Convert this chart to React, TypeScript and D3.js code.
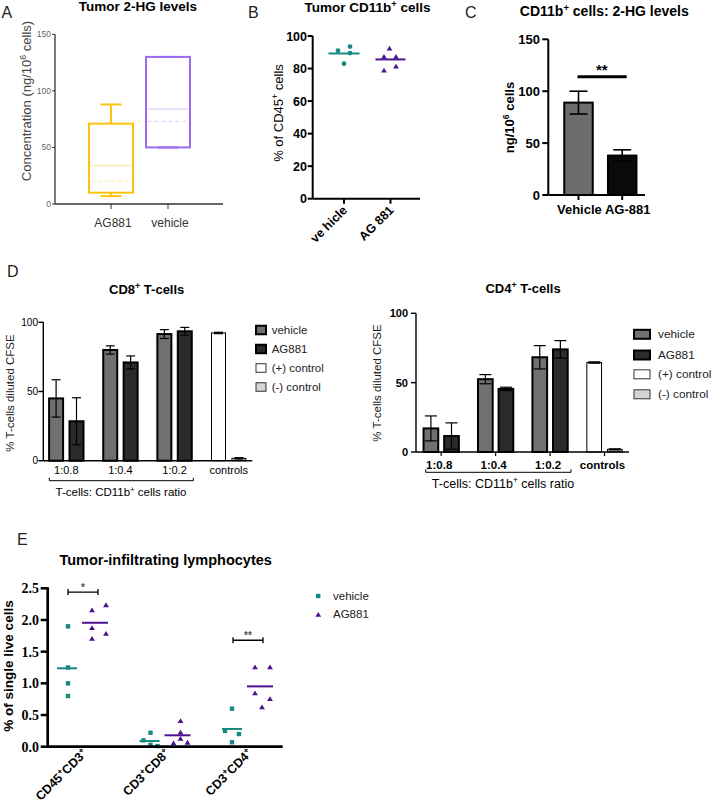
import React from "react";
import * as d3 from "d3";

// ---------- Panel A: Tumor 2-HG levels (box plots) ----------
const aCategories = ["AG881", "vehicle"];
const aMin = [7, 50];
const aQ1 = [10, 50];
const aMedian = [34, 84];
const aMean = [20, 73];
const aQ3 = [71, 130];
const aMax = [88, 130];
const aTicks = [0, 50, 100, 150];

// ---------- Panel B: Tumor CD11b+ cells ----------
const bCategories = ["ve hicle", "AG 881"];
const bVehicle = [91, 93.5, 83, 89.5];
const bAG881 = [92.5, 87.5, 87.5, 79, 81.5];
const bTicks = [0, 20, 40, 60, 80, 100];

// ---------- Panel C: CD11b+ cells 2-HG levels ----------
const cCategories = ["Vehicle", "AG-881"];
const cMeans = [89, 38];
const cErrors = [11, 5.5];
const cTicks = [0, 50, 100, 150];
const cSigLabel = "**";

// ---------- Panel D: T-cell suppression ----------
const dGroups = ["1:0.8", "1:0.4", "1:0.2"];
const dControlsLabel = "controls";
const dLegend = ["vehicle", "AG881", "(+) control", "(-) control"];
const dTicks = [0, 50, 100];
const cd8Vehicle = [45, 80, 91.5];
const cd8VehicleErr = [13.5, 3, 3.2];
const cd8AG881 = [28.5, 71, 93.5];
const cd8AG881Err = [17, 4.7, 2.8];
const cd8Controls = [92.3, 1.7];
const cd8ControlsErr = [0.5, 0.5];
const cd4Vehicle = [17, 52.5, 68.3];
const cd4VehicleErr = [9, 3.3, 8.4];
const cd4AG881 = [11.5, 45.5, 74];
const cd4AG881Err = [9.5, 1.2, 6.3];
const cd4Controls = [64.5, 1.9];
const cd4ControlsErr = [0.5, 0.4];

// ---------- Panel E: Tumor-infiltrating lymphocytes ----------
const eCategories = ["CD45^+CD3^+", "CD3^+CD8^+", "CD3^+CD4^+"];
const eVehicle = [
  [1.9, 1.25, 1.0, 0.8],
  [0.22, 0.1, 0.01, 0.03],
  [0.6, 0.25, 0.2, 0.07],
];
const eAG881 = [
  [2.16, 2.24, 1.88, 1.79, 1.71],
  [0.41, 0.23, 0.13, 0.06, 0.07],
  [1.26, 1.26, 0.85, 0.76, 0.63],
];
const eTicks = [0, 0.5, 1.0, 1.5, 2.0, 2.5];
const eSigCategories = ["CD45^+CD3^+", "CD3^+CD4^+"];
const eSigLabels = ["*", "**"];
const eSigLevels = [2.44, 1.68];

// ---------- layout-only jitter (px) ----------
const bVehicleJitter = [-6, 6, 0, 6];
const bAGJitter = [-1, -6.5, 5.5, -6.5, 5.5];
const eVehicleJitter = [
  [1, 1, 1, 1],
  [1, -6, 8, 1],
  [0, -7, 7, 0],
];
const eAGJitter = [
  [-3, 11, -3, 11, -3],
  [3, 3, 3, -4, 10],
  [-5, 10, -5, 10, 2],
];

const FONT = "'Liberation Sans', Arial, Helvetica, sans-serif";
const SERIF = "'Liberation Serif', 'Times New Roman', serif";
const TEAL = "#168A80";
const PURPLE = "#4A128C";

function Rich({ text, fs, ...rest }: any) {
  const parts = text.split(/(\^.)/).filter((p: string) => p.length > 0);
  let raised = false;
  const kids = parts.map((p: string, i: number) => {
    if (p[0] === "^" && p.length === 2) {
      raised = true;
      return (
        <tspan key={i} dy={-fs * 0.38} fontSize={fs * 0.68}>
          {p[1]}
        </tspan>
      );
    }
    const dy = raised ? fs * 0.38 : 0;
    raised = false;
    return (
      <tspan key={i} dy={dy}>
        {p}
      </tspan>
    );
  });
  return (
    <text fontSize={fs} {...rest}>
      {kids}
    </text>
  );
}

function tri(cx: number, cy: number, w: number, h: number) {
  return `M${cx},${cy - h / 2}L${cx + w / 2},${cy + h / 2}L${cx - w / 2},${cy + h / 2}Z`;
}

function PanelA() {
  const y = d3.scaleLinear().domain([0, 150]).range([204, 34.3]);
  const x = d3.scalePoint<string>().domain(aCategories).range([111, 168]);
  const stroke = ["#FFC20E", "#9B6BF3"];
  const light = ["#FFEDB0", "#E2D8FC"];
  const bw = 44;
  const cap = 21;
  const ax = 55;
  return (
    <g fontFamily={FONT}>
      <text x={1.5} y={18.3} fontSize={16} fill="#222">A</text>
      <text x={138} y={11} textAnchor="middle" fontSize={13.5} fontWeight="bold">
        Tumor 2-HG levels
      </text>
      <Rich
        text="Concentration (ng/10^6 cells)"
        fs={13}
        fill="#444"
        textAnchor="middle"
        transform={`translate(31,101) rotate(-90)`}
      />
      {aCategories.map((c, i) => {
        const cx = x(c)!;
        return (
          <g key={c}>
            <line x1={cx} x2={cx} y1={y(aMax[i])} y2={y(aQ3[i])} stroke={stroke[i]} strokeWidth={2} />
            <line x1={cx} x2={cx} y1={y(aQ1[i])} y2={y(aMin[i])} stroke={stroke[i]} strokeWidth={2} />
            <line x1={cx - cap / 2} x2={cx + cap / 2} y1={y(aMax[i])} y2={y(aMax[i])} stroke={stroke[i]} strokeWidth={2} />
            <line x1={cx - cap / 2} x2={cx + cap / 2} y1={y(aMin[i])} y2={y(aMin[i])} stroke={stroke[i]} strokeWidth={2} />
            <rect
              x={cx - bw / 2}
              y={y(aQ3[i])}
              width={bw}
              height={y(aQ1[i]) - y(aQ3[i])}
              fill="none"
              stroke={stroke[i]}
              strokeWidth={2}
            />
            <line x1={cx - bw / 2 + 1.5} x2={cx + bw / 2 - 1.5} y1={y(aMedian[i])} y2={y(aMedian[i])} stroke={light[i]} strokeWidth={1.6} />
            <line
              x1={cx - bw / 2 + 1.5}
              x2={cx + bw / 2 - 1.5}
              y1={y(aMean[i])}
              y2={y(aMean[i])}
              stroke={light[i]}
              strokeWidth={1.3}
              strokeDasharray="4,3"
            />
          </g>
        );
      })}
      <line x1={ax} x2={ax} y1={y(150)} y2={y(0)} stroke="#333" strokeWidth={1.3} />
      <line x1={ax} x2={223} y1={y(0)} y2={y(0)} stroke="#333" strokeWidth={1.3} />
      {aTicks.map((t) => (
        <g key={t}>
          <line x1={ax - 3} x2={ax} y1={y(t)} y2={y(t)} stroke="#333" strokeWidth={1} />
          <text x={ax - 4} y={y(t) + 3} fontSize={8.5} fill="#666" textAnchor="end">
            {t}
          </text>
        </g>
      ))}
      {aCategories.map((c) => (
        <g key={c}>
          <line x1={x(c)!} x2={x(c)!} y1={y(0)} y2={y(0) + 5} stroke="#333" strokeWidth={1} />
          <text x={x(c)! + 2} y={226.5} fontSize={12} fill="#333" textAnchor="middle">
            {c}
          </text>
        </g>
      ))}
    </g>
  );
}

function PanelB() {
  const y = d3.scaleLinear().domain([0, 100]).range([198.7, 36]);
  const x = d3.scalePoint<string>().domain(bCategories).range([344, 390.5]);
  const ax = 312.7;
  const vm = d3.mean(bVehicle)!;
  const am = d3.mean(bAG881)!;
  return (
    <g fontFamily={FONT}>
      <text x={248} y={18.3} fontSize={16} fill="#222">B</text>
      <Rich text="Tumor CD11b^+ cells" fs={13.5} fontWeight="bold" x={367.5} y={12} textAnchor="middle" />
      <Rich text="% of CD45^+ cells" fs={13} textAnchor="middle" transform="translate(282.5,113) rotate(-90)" />
      <line x1={ax} x2={ax} y1={y(100)} y2={y(0)} stroke="#000" strokeWidth={2} />
      <line x1={ax} x2={420} y1={y(0)} y2={y(0)} stroke="#000" strokeWidth={2} />
      {bTicks.map((t) => (
        <g key={t}>
          <line x1={ax - 5} x2={ax} y1={y(t)} y2={y(t)} stroke="#000" strokeWidth={2} />
          <text x={307} y={y(t) + 4.5} fontSize={12.5} fontWeight="bold" textAnchor="end">
            {t}
          </text>
        </g>
      ))}
      {bCategories.map((c) => (
        <g key={c}>
          <line x1={x(c)!} x2={x(c)!} y1={y(0)} y2={y(0) + 5} stroke="#000" strokeWidth={2} />
          <text
            fontSize={12.5}
            fontWeight="bold"
            textAnchor="end"
            transform={`translate(${x(c)! + 4},${211}) rotate(-45)`}
          >
            {c}
          </text>
        </g>
      ))}
      {bVehicle.map((v, i) => (
        <circle key={i} cx={x(bCategories[0])! + bVehicleJitter[i]} cy={y(v)} r={2.4} fill={TEAL} />
      ))}
      <line x1={x(bCategories[0])! - 15.5} x2={x(bCategories[0])! + 15.5} y1={y(vm)} y2={y(vm)} stroke={TEAL} strokeWidth={2} />
      {bAG881.map((v, i) => (
        <path key={i} d={tri(x(bCategories[1])! + bAGJitter[i], y(v), 5.6, 4.8)} fill={PURPLE} />
      ))}
      <line x1={x(bCategories[1])! - 15} x2={x(bCategories[1])! + 15} y1={y(am)} y2={y(am)} stroke={PURPLE} strokeWidth={2} />
    </g>
  );
}

function PanelC() {
  const y = d3.scaleLinear().domain([0, 150]).range([195, 39.3]);
  const x = d3.scalePoint<string>().domain(cCategories).range([578.5, 622.2]);
  const ax = 548.3;
  const bw = 28.5;
  const fills = ["#6D6D6D", "#0A0A0A"];
  return (
    <g fontFamily={FONT}>
      <text x={465} y={18.3} fontSize={16} fill="#222">C</text>
      <Rich text="CD11b^+ cells: 2-HG levels" fs={14} fontWeight="bold" x={604.3} y={16} textAnchor="middle" />
      <Rich text="ng/10^6 cells" fs={13} fontWeight="bold" textAnchor="middle" transform="translate(514,117.5) rotate(-90)" />
      {cCategories.map((c, i) => {
        const cx = x(c)!;
        return (
          <g key={c}>
            <line x1={cx} x2={cx} y1={y(cMeans[i] + cErrors[i])} y2={y(cMeans[i] - cErrors[i])} stroke="#000" strokeWidth={1.6} />
            <line x1={cx - 9} x2={cx + 9} y1={y(cMeans[i] + cErrors[i])} y2={y(cMeans[i] + cErrors[i])} stroke="#000" strokeWidth={1.6} />
            <rect x={cx - bw / 2} y={y(cMeans[i])} width={bw} height={y(0) - y(cMeans[i])} fill={fills[i]} stroke="#000" strokeWidth={2} />
            <line x1={cx} x2={cx} y1={y(cMeans[i])} y2={y(cMeans[i] - cErrors[i])} stroke="#000" strokeWidth={1.6} />
            <line x1={cx - 9} x2={cx + 9} y1={y(cMeans[i] - cErrors[i])} y2={y(cMeans[i] - cErrors[i])} stroke="#000" strokeWidth={1.6} />
            <line x1={cx} x2={cx} y1={y(0)} y2={y(0) + 5} stroke="#000" strokeWidth={2} />
          </g>
        );
      })}
      <line x1={ax} x2={ax} y1={y(150)} y2={y(0)} stroke="#000" strokeWidth={2} />
      <line x1={ax} x2={645} y1={y(0)} y2={y(0)} stroke="#000" strokeWidth={2} />
      {cTicks.map((t) => (
        <g key={t}>
          <line x1={ax - 6} x2={ax} y1={y(t)} y2={y(t)} stroke="#000" strokeWidth={2} />
          <text x={540} y={y(t) + 4.5} fontSize={13} fontWeight="bold" textAnchor="end">
            {t}
          </text>
        </g>
      ))}
      <text x={557} y={214} fontSize={13} fontWeight="bold">
        {cCategories.join(" ")}
      </text>
      <line x1={x(cCategories[0])! - 1} x2={x(cCategories[1])! + 4.5} y1={76.7} y2={76.7} stroke="#000" strokeWidth={3} />
      <text x={(x(cCategories[0])! + x(cCategories[1])!) / 2 + 1.5} y={75} fontSize={15} fontWeight="bold" textAnchor="middle">
        {cSigLabel}
      </text>
    </g>
  );
}

function DPanel({ title, vehicle, vehicleErr, ag, agErr, controls, controlsErr, L }: any) {
  const y = d3.scaleLinear().domain([0, 100]).range([L.y0, L.y100]);
  const x = d3.scalePoint<string>().domain([...dGroups, dControlsLabel]).range(L.groupRange);
  const fills = ["#707070", "#2B2B2B", "#FFFFFF", "#D4D4D4"];
  const bars: any[] = [];
  dGroups.forEach((g, i) => {
    bars.push({ cx: x(g)! - L.off, v: vehicle[i], e: vehicleErr[i], fill: fills[0], sw: 2 });
    bars.push({ cx: x(g)! + L.off, v: ag[i], e: agErr[i], fill: fills[1], sw: 2 });
  });
  bars.push({ cx: x(dControlsLabel)! - L.off, v: controls[0], e: controlsErr[0], fill: fills[2], sw: 1 });
  bars.push({ cx: x(dControlsLabel)! + L.off, v: controls[1], e: controlsErr[1], fill: fills[3], sw: 1 });
  const [b1, b2, by] = L.bracket;
  return (
    <g fontFamily={FONT}>
      <Rich text={title} fs={L.titleFs} fontWeight="bold" x={L.titleX} y={L.titleY} textAnchor="middle" />
      <text fontSize={L.ylabFs} textAnchor="middle" transform={`translate(${L.ylabX},${L.ylabY}) rotate(-90)`} fill="#222">
        % T-cells diluted CFSE
      </text>
      {bars.map((b, i) => (
        <g key={i}>
          <line x1={b.cx} x2={b.cx} y1={y(b.v + b.e)} y2={y(b.v)} stroke="#000" strokeWidth={1.2} />
          <line x1={b.cx - L.cap / 2} x2={b.cx + L.cap / 2} y1={y(b.v + b.e)} y2={y(b.v + b.e)} stroke="#000" strokeWidth={1.2} />
          <rect
            x={b.cx - L.bw / 2}
            y={y(b.v)}
            width={L.bw}
            height={y(0) - y(b.v)}
            fill={b.fill}
            stroke="#000"
            strokeWidth={b.sw}
          />
          <line x1={b.cx} x2={b.cx} y1={y(b.v)} y2={y(Math.max(0, b.v - b.e))} stroke="#000" strokeWidth={1.2} />
          <line
            x1={b.cx - L.cap / 2}
            x2={b.cx + L.cap / 2}
            y1={y(Math.max(0, b.v - b.e))}
            y2={y(Math.max(0, b.v - b.e))}
            stroke="#000"
            strokeWidth={1.2}
          />
        </g>
      ))}
      <line x1={L.ax} x2={L.ax} y1={y(100)} y2={y(0)} stroke="#000" strokeWidth={1.4} />
      <line x1={L.ax} x2={L.xEnd} y1={y(0)} y2={y(0)} stroke="#000" strokeWidth={1.4} />
      {dTicks.map((t) => (
        <g key={t}>
          <line x1={L.ax - 5} x2={L.ax} y1={y(t)} y2={y(t)} stroke="#000" strokeWidth={1.4} />
          <text
            x={L.tickEnd}
            y={y(t) + L.tickFs * 0.35}
            fontSize={L.tickFs}
            fontWeight={L.tickBold ? "bold" : "normal"}
            textAnchor="end"
          >
            {t}
          </text>
        </g>
      ))}
      {[...dGroups, dControlsLabel].map((g) => (
        <g key={g}>
          {L.xTicks && <line x1={x(g)!} x2={x(g)!} y1={y(0)} y2={y(0) + 4} stroke="#000" strokeWidth={1.2} />}
          <text
            x={x(g)! + L.labelShift}
            y={L.groupY}
            fontSize={L.groupFs}
            fontWeight={L.groupBold ? "bold" : "normal"}
            textAnchor="middle"
          >
            {g}
          </text>
        </g>
      ))}
      <path d={`M${b1},${by - 3}L${b1},${by}L${b2},${by}L${b2},${by - 3}`} fill="none" stroke="#000" strokeWidth={1} />
      <Rich text="T-cells: CD11b^+ cells ratio" fs={L.bracketFs} x={L.bracketLabelX} y={L.bracketLabelY} textAnchor="middle" />
      {dLegend.map((t, i) => (
        <g key={t}>
          <rect
            x={L.legX}
            y={L.legRows[i] - L.legH / 2}
            width={L.legW}
            height={L.legH}
            fill={fills[i]}
            stroke={i < 2 ? "#000" : "#333"}
            strokeWidth={i < 2 ? 2 : 1}
          />
          <text x={L.legTextX} y={L.legRows[i] + L.legFs * 0.35} fontSize={L.legFs} fill="#222">
            {t}
          </text>
        </g>
      ))}
    </g>
  );
}

const dLeftLayout = {
  ax: 43.3,
  y0: 460.7,
  y100: 322.3,
  xEnd: 252.3,
  groupRange: [66.3, 228.7],
  off: 10.2,
  bw: 14,
  cap: 9,
  tickFs: 10,
  tickBold: false,
  tickEnd: 38,
  groupFs: 11,
  groupBold: false,
  groupY: 474,
  labelShift: 0,
  xTicks: false,
  bracket: [49.3, 193.3, 480.7],
  bracketLabelX: 121,
  bracketLabelY: 496,
  bracketFs: 11.5,
  titleX: 146.7,
  titleY: 294,
  titleFs: 13,
  ylabX: 14,
  ylabY: 393,
  ylabFs: 11.5,
  legX: 256,
  legW: 10,
  legH: 8.5,
  legRows: [330, 349, 368, 387],
  legTextX: 271.7,
  legFs: 11.5,
};

const dRightLayout = {
  ax: 416,
  y0: 452,
  y100: 313.3,
  xEnd: 629,
  groupRange: [441.2, 604.5],
  off: 10.3,
  bw: 14.7,
  cap: 12,
  tickFs: 11,
  tickBold: true,
  tickEnd: 408,
  groupFs: 11.5,
  groupBold: true,
  groupY: 468.5,
  labelShift: -2,
  xTicks: true,
  bracket: [425.7, 571, 472.3],
  bracketLabelX: 503,
  bracketLabelY: 487.5,
  bracketFs: 12.5,
  titleX: 523,
  titleY: 292.5,
  titleFs: 13,
  ylabX: 381,
  ylabY: 383,
  ylabFs: 11.5,
  legX: 634,
  legW: 16,
  legH: 9,
  legRows: [334.3, 355, 374.3, 394.3],
  legTextX: 658,
  legFs: 11.8,
};

function PanelE() {
  const y = d3.scaleLinear().domain([0, 2.5]).range([746.7, 588.3]);
  const x = d3.scalePoint<string>().domain(eCategories).range([81, 246]);
  const ax = 47.7;
  const vOff = -14;
  const aOff = 14;
  return (
    <g fontFamily={FONT}>
      <text x={17} y={545} fontSize={16} fill="#222">E</text>
      <text x={165.7} y={565} fontSize={14.5} fontWeight="bold" textAnchor="middle">
        Tumor-infiltrating lymphocytes
      </text>
      <text fontSize={13.5} fontWeight="bold" textAnchor="middle" transform="translate(13,666) rotate(-90)">
        % of single live cells
      </text>
      {eCategories.map((c, ci) => {
        const cv = x(c)! + vOff;
        const ca = x(c)! + aOff;
        const vm = d3.mean(eVehicle[ci])!;
        const am = d3.mean(eAG881[ci])!;
        return (
          <g key={c}>
            {eVehicle[ci].map((v, i) => (
              <rect key={i} x={cv + eVehicleJitter[ci][i] - 2.2} y={y(v) - 2.2} width={4.4} height={4.4} fill={TEAL} />
            ))}
            <line x1={cv - 10} x2={cv + 10} y1={y(vm)} y2={y(vm)} stroke={TEAL} strokeWidth={2} />
            {eAG881[ci].map((v, i) => (
              <path key={i} d={tri(ca + eAGJitter[ci][i], y(v), 5.8, 4.8)} fill={PURPLE} />
            ))}
            <line x1={ca - 13} x2={ca + 13} y1={y(am)} y2={y(am)} stroke={PURPLE} strokeWidth={2} />
            <Rich
              text={c}
              fs={12.5}
              fontWeight="bold"
              textAnchor="end"
              transform={`translate(${x(c)! + 7},${754}) rotate(-45)`}
            />
          </g>
        );
      })}
      {eSigCategories.map((c, i) => {
        const x1 = x(c)! + vOff + 1;
        const x2 = x(c)! + aOff + 3;
        const yy = y(eSigLevels[i]);
        return (
          <g key={c}>
            <path
              d={`M${x1},${yy - 3}L${x1},${yy + 3}M${x1},${yy}L${x2},${yy}M${x2},${yy - 3}L${x2},${yy + 3}`}
              stroke="#000"
              strokeWidth={1.3}
              fill="none"
            />
            <text x={(x1 + x2) / 2} y={yy - 1.5} fontSize={10} fontWeight="bold" fill="#555" textAnchor="middle">
              {eSigLabels[i]}
            </text>
          </g>
        );
      })}
      <line x1={ax} x2={ax} y1={y(2.5) - 1} y2={y(0) + 1.3} stroke="#000" strokeWidth={2.7} />
      <line x1={ax} x2={282.7} y1={y(0)} y2={y(0)} stroke="#000" strokeWidth={2.7} />
      {eTicks.map((t) => (
        <g key={t}>
          <line x1={ax - 7} x2={ax} y1={y(t)} y2={y(t)} stroke="#000" strokeWidth={2.5} />
          <text x={39} y={y(t) + 5} fontSize={14} fontWeight="bold" fontFamily={SERIF} textAnchor="end">
            {t.toFixed(1)}
          </text>
        </g>
      ))}
      <rect x={316} y={593.8} width={4.4} height={4.4} fill={TEAL} />
      <text x={333} y={600} fontSize={11.5} fill="#222">vehicle</text>
      <path d={tri(318.3, 614.3, 5.8, 4.8)} fill={PURPLE} />
      <text x={333} y={618.3} fontSize={11.5} fill="#222">AG881</text>
    </g>
  );
}

export default function App() {
  return (
    <svg
      width={713}
      height={804}
      viewBox="0 0 713 804"
      style={{ position: "absolute", left: 0, top: 0, background: "#fff" }}
    >
      <rect width={713} height={804} fill="#fff" />
      <PanelA />
      <PanelB />
      <PanelC />
      <text x={7} y={277} fontSize={16} fontFamily={FONT} fill="#222">D</text>
      <DPanel
        title="CD8^+ T-cells"
        vehicle={cd8Vehicle}
        vehicleErr={cd8VehicleErr}
        ag={cd8AG881}
        agErr={cd8AG881Err}
        controls={cd8Controls}
        controlsErr={cd8ControlsErr}
        L={dLeftLayout}
      />
      <DPanel
        title="CD4^+ T-cells"
        vehicle={cd4Vehicle}
        vehicleErr={cd4VehicleErr}
        ag={cd4AG881}
        agErr={cd4AG881Err}
        controls={cd4Controls}
        controlsErr={cd4ControlsErr}
        L={dRightLayout}
      />
      <PanelE />
    </svg>
  );
}
